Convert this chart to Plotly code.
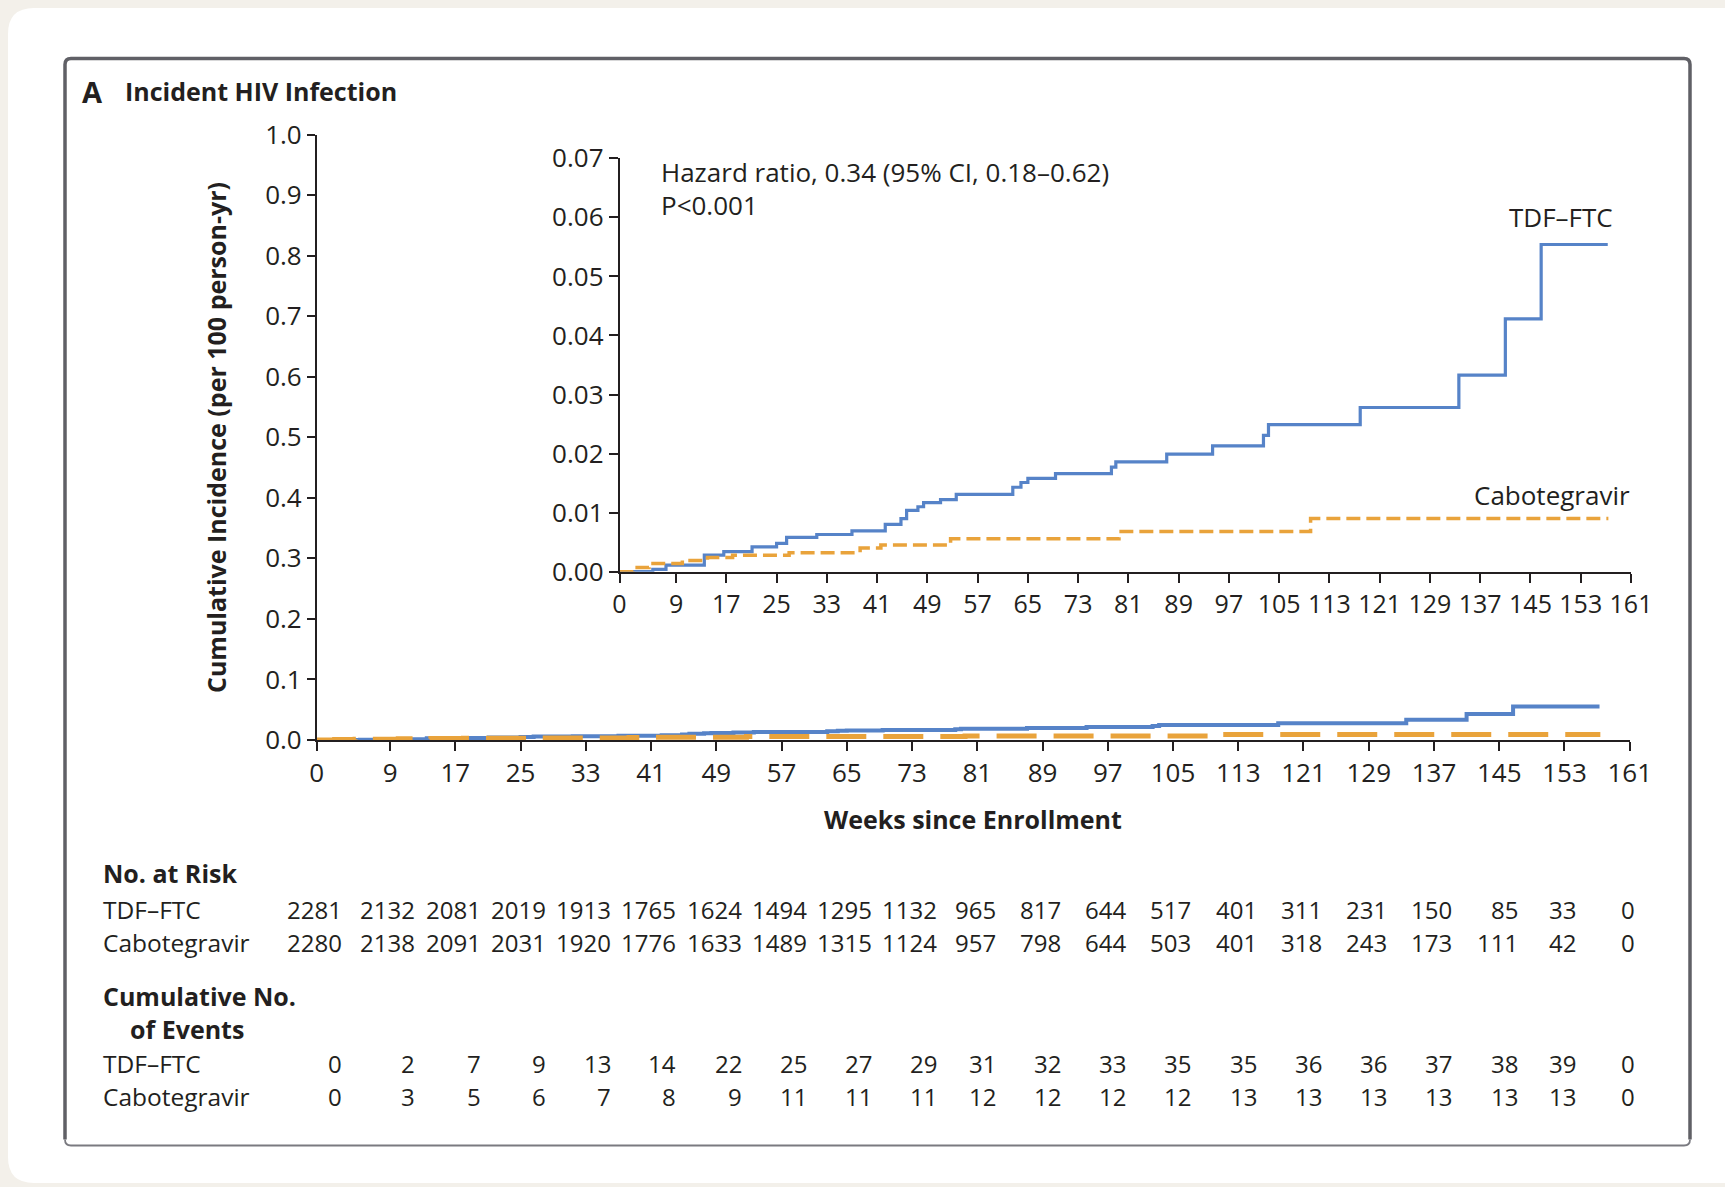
import plotly.graph_objects as go

# ---------------- data ----------------
week_ticks = [0, 9, 17, 25, 33, 41, 49, 57, 65, 73, 81, 89, 97, 105, 113, 121, 129, 137, 145, 153, 161]

tdf_weeks = [0, 5.3, 7.4, 13.5, 16.6, 21.1, 25.0, 26.6, 31.4, 37.0, 42.3, 44.8, 45.7, 47.5, 48.4,
             51.1, 53.6, 62.6, 63.9, 65.0, 69.4, 78.3, 79.0, 87.1, 94.4, 102.5, 103.3, 117.9,
             133.6, 141.0, 146.7, 157.3]
tdf_inc = [0, 0.0004, 0.0011, 0.0028, 0.0034, 0.0042, 0.0048, 0.0058, 0.0063, 0.0069, 0.0080,
           0.0090, 0.0104, 0.0110, 0.0117, 0.0122, 0.0131, 0.0143, 0.0151, 0.0158, 0.0166,
           0.0177, 0.0186, 0.0199, 0.0213, 0.0231, 0.0249, 0.0278, 0.0333, 0.0428, 0.0554, 0.0554]

cab_weeks = [0, 2.2, 4.7, 10.0, 14.0, 18.0, 27.0, 38.3, 41.6, 52.7, 79.5, 110.0, 157.4]
cab_inc = [0, 0.0007, 0.0014, 0.0019, 0.0024, 0.0028, 0.0032, 0.0040, 0.0045, 0.0056, 0.0068,
           0.0090, 0.0090]

risk_tdf = [2281, 2132, 2081, 2019, 1913, 1765, 1624, 1494, 1295, 1132, 965, 817, 644, 517, 401,
            311, 231, 150, 85, 33, 0]
risk_cab = [2280, 2138, 2091, 2031, 1920, 1776, 1633, 1489, 1315, 1124, 957, 798, 644, 503, 401,
            318, 243, 173, 111, 42, 0]
events_tdf = [0, 2, 7, 9, 13, 14, 22, 25, 27, 29, 31, 32, 33, 35, 35, 36, 36, 37, 38, 39, 0]
events_cab = [0, 3, 5, 6, 7, 8, 9, 11, 11, 11, 12, 12, 12, 12, 13, 13, 13, 13, 13, 13, 0]

main_yticks = [0.0, 0.1, 0.2, 0.3, 0.4, 0.5, 0.6, 0.7, 0.8, 0.9, 1.0]
inset_yticks = [0.00, 0.01, 0.02, 0.03, 0.04, 0.05, 0.06, 0.07]

# ---------------- style ----------------
W, H = 1725, 1187
BLUE = "#5683c8"
ORANGE = "#e9a33b"
INK = "#231f20"
FONT = "'Open Sans', Lato, sans-serif"
TICK = 26


def px(x):
    return x / W


def py(y):
    return 1 - y / H


fig = go.Figure()

# main plot
fig.add_trace(go.Scatter(x=tdf_weeks, y=tdf_inc, mode="lines", line_shape="hv",
                         line=dict(color=BLUE, width=4), xaxis="x", yaxis="y",
                         showlegend=False, hoverinfo="skip"))
fig.add_trace(go.Scatter(x=cab_weeks, y=cab_inc, mode="lines", line_shape="hv",
                         line=dict(color=ORANGE, width=5, dash="40px,17px"), xaxis="x", yaxis="y",
                         showlegend=False, hoverinfo="skip"))
# inset
fig.add_trace(go.Scatter(x=tdf_weeks, y=tdf_inc, mode="lines", line_shape="hv",
                         line=dict(color=BLUE, width=3.2), xaxis="x2", yaxis="y2",
                         showlegend=False, hoverinfo="skip"))
fig.add_trace(go.Scatter(x=cab_weeks, y=cab_inc, mode="lines", line_shape="hv",
                         line=dict(color=ORANGE, width=3.5, dash="14px,6px"), xaxis="x2", yaxis="y2",
                         showlegend=False, hoverinfo="skip"))

axis_common = dict(showgrid=False, zeroline=False, showline=True, linecolor=INK, linewidth=1.6,
                   ticks="outside", tickcolor=INK, tickwidth=1.6, automargin=False)


def tf(size):
    return dict(family=FONT, size=size, color=INK)


fig.update_layout(
    autosize=True,
    margin=dict(l=0, r=0, t=0, b=0, pad=0, autoexpand=False),
    paper_bgcolor="#f3f0ea",
    plot_bgcolor="rgba(0,0,0,0)",
    font=dict(family=FONT, color=INK),
    xaxis=dict(domain=[px(316.7), px(1629.7)], range=[0, 161], tickvals=week_ticks,
               anchor="y", ticklen=9, tickfont=tf(TICK), **axis_common),
    yaxis=dict(domain=[py(740), py(134.5)], range=[0, 1], tickvals=main_yticks,
               ticktext=[f"{v:.1f}" for v in main_yticks], anchor="x", ticklen=8,
               tickfont=tf(TICK), **axis_common),
    xaxis2=dict(domain=[px(619.5), px(1631)], range=[0, 161], tickvals=week_ticks,
                anchor="y2", ticklen=9, tickfont=tf(25), **axis_common),
    yaxis2=dict(domain=[py(571.7), py(158.3)], range=[0, 0.07], tickvals=inset_yticks,
                ticktext=[f"{v:.2f}" for v in inset_yticks], anchor="x2", ticklen=9,
                tickfont=tf(TICK), **axis_common),
)

# background card and frame
shapes = []
r = 26
card = (f"M {px(8)},{py(8 + r)} Q {px(8)},{py(8)} {px(8 + r)},{py(8)} L {px(1725)},{py(8)} "
        f"L {px(1725)},{py(1183)} L {px(8 + r)},{py(1183)} Q {px(8)},{py(1183)} {px(8)},{py(1183 - r)} Z")
shapes.append(dict(type="path", path=card, xref="paper", yref="paper", fillcolor="white",
                   line=dict(width=0), layer="below"))
fl, ft, fr, fb, rr = 65, 58.5, 1690, 1145.5, 6
frame_top = (f"M {px(fl)},{py(fb - rr)} L {px(fl)},{py(ft + rr)} Q {px(fl)},{py(ft)} {px(fl + rr)},{py(ft)} "
             f"L {px(fr - rr)},{py(ft)} Q {px(fr)},{py(ft)} {px(fr)},{py(ft + rr)} L {px(fr)},{py(fb - rr)}")
shapes.append(dict(type="path", path=frame_top, xref="paper", yref="paper",
                   line=dict(color="#606066", width=3.5), layer="below"))
frame_bot = (f"M {px(fl)},{py(fb - rr)} Q {px(fl)},{py(fb)} {px(fl + rr)},{py(fb)} "
             f"L {px(fr - rr)},{py(fb)} Q {px(fr)},{py(fb)} {px(fr)},{py(fb - rr)}")
shapes.append(dict(type="path", path=frame_bot, xref="paper", yref="paper",
                   line=dict(color="#7a7a80", width=1.8), layer="below"))
fig.update_layout(shapes=shapes)

ann = []


def text(x, y, s, size=24, bold=False, xanchor="left", **kw):
    if bold:
        s = f"<b>{s}</b>"
    d = dict(x=x, y=y, xref="paper", yref="paper", text=s, showarrow=False,
             xanchor=xanchor, yanchor="middle", font=dict(family=FONT, size=size, color=INK))
    d.update(kw)
    ann.append(d)


# titles
text(px(80), py(91), "A", size=29, bold=True)
text(px(123), py(91), "Incident HIV Infection", size=25, bold=True)
text(px(973), py(819), "Weeks since Enrollment", size=25, bold=True, xanchor="center")
text(px(216), py(438), "Cumulative Incidence (per 100 person-yr)", size=25, bold=True,
     xanchor="center", textangle=-90)

# inset annotations
text(px(659), py(172), "Hazard ratio, 0.34 (95% CI, 0.18\u20130.62)", size=26)
text(px(659), py(205), "P<0.001", size=26)
text(px(1615), py(217), "TDF\u2013FTC", size=26, xanchor="right")
text(px(1632), py(495), "Cabotegravir", size=26, xanchor="right")

# table labels
text(px(101), py(873), "No. at Risk", size=25, bold=True)
text(px(101), py(909), "TDF\u2013FTC", size=24.5)
text(px(101), py(942), "Cabotegravir", size=24.5)
text(px(101), py(996), "Cumulative No.", size=25, bold=True)
text(px(128), py(1029), "of Events", size=25, bold=True)
text(px(101), py(1063), "TDF\u2013FTC", size=24.5)
text(px(101), py(1096), "Cabotegravir", size=24.5)

rows = [(risk_tdf, 909), (risk_cab, 942), (events_tdf, 1063), (events_cab, 1096)]
for i, wk in enumerate(week_ticks):
    digits = max(len(str(risk_tdf[i])), len(str(risk_cab[i])))
    shift = 6.8 * digits
    for vals, yy in rows:
        ann.append(dict(x=wk, y=py(yy), xref="x", yref="paper", text=str(vals[i]),
                        showarrow=False, xanchor="right", yanchor="middle", xshift=shift,
                        font=dict(family=FONT, size=24, color=INK)))

fig.update_layout(annotations=ann)

post = (
    "document.documentElement.style.margin='0';document.body.style.margin='0';"
    "document.documentElement.style.overflow='hidden';document.body.style.overflow='hidden';"
    "window.dispatchEvent(new Event('resize'));"
)

fig.write_html("out.html", default_width="100vw", default_height="100vh",
               config={"responsive": True, "displayModeBar": False},
               post_script=post)
